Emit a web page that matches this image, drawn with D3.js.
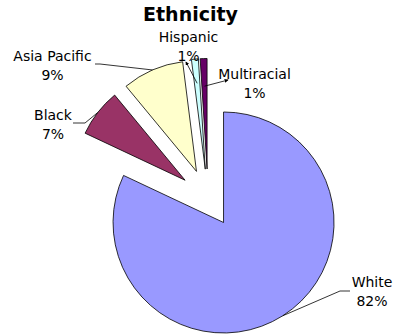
<!DOCTYPE html>
<html>
<head>
<meta charset="utf-8">
<script src="https://cdn.jsdelivr.net/npm/d3@7/dist/d3.min.js"></script>
<style>
  html, body { margin: 0; padding: 0; background: #fff; }
  svg { display: block; }
  text { font-family: "DejaVu Sans", Verdana, sans-serif; fill: #000; }
</style>
</head>
<body>
<svg id="chart" width="396" height="336"></svg>
<script>
// Ethnicity breakdown (percent of total)
const categories = ["White", "Black", "Asia Pacific", "Hispanic", "Multiracial"];
const values = [82, 7, 9, 1, 1];
const colors = ["#9999FF", "#993366", "#FFFFCC", "#CCFFFF", "#660066"];
const title = "Ethnicity";

const width = 396, height = 336;
const cx = 208, cy = 198;     // pie centre
const radius = 110.5;
const explode = 29;           // every slice pulled out by the same distance

// Label layout: text centre, first baseline, leader anchor at the label side,
// and how far along the slice's mid-angle the leader touches it
const labelLayout = {
  "White":        { x: 372,   y: 287, lead: [[350, 291], [340, 291]], reach: 1.0, arrow: false },
  "Black":        { x: 53,    y: 120, lead: [[73, 123], [85, 123]],   reach: 1.0, arrow: false },
  "Asia Pacific": { x: 52.5,  y: 61,  lead: [[95, 64], [100, 64]],    reach: 1.0, arrow: false },
  "Hispanic":     { x: 188.5, y: 42,  lead: [[186, 62]],              reach: 0.78, arrow: true },
  "Multiracial":  { x: 254.5, y: 79,  lead: [[228, 80]],              reach: 0.75, arrow: true }
};

const svg = d3.select("#chart");

svg.append("defs").append("marker")
  .attr("id", "arrow")
  .attr("viewBox", "0 0 6 6")
  .attr("refX", 5).attr("refY", 3)
  .attr("markerWidth", 5).attr("markerHeight", 5)
  .attr("orient", "auto-start-reverse")
  .append("path")
  .attr("d", "M0,0 L6,3 L0,6 Z")
  .attr("fill", "#000");

svg.append("text")
  .attr("x", 190.5).attr("y", 21)
  .attr("text-anchor", "middle")
  .style("font-weight", "bold")
  .style("font-size", "19px")
  .text(title);

const total = d3.sum(values);
const pie = d3.pie().sort(null).value(d => d.value).startAngle(0).endAngle(2 * Math.PI);
const data = pie(categories.map((c, i) => ({ name: c, value: values[i], color: colors[i] })));

const arc = d3.arc().innerRadius(0).outerRadius(radius);

const g = svg.append("g").attr("transform", `translate(${cx},${cy})`);

function offsetOf(d, dist) {
  const a = (d.startAngle + d.endAngle) / 2;
  return [Math.sin(a) * dist, -Math.cos(a) * dist];
}

g.selectAll("path.slice")
  .data(data)
  .join("path")
  .attr("class", "slice")
  .attr("d", arc)
  .attr("transform", d => { const o = offsetOf(d, explode); return `translate(${o[0]},${o[1]})`; })
  .attr("fill", d => d.data.color)
  .attr("stroke", "#000")
  .attr("stroke-width", 0.8)
  .attr("stroke-linejoin", "round");

// Leader lines from each slice to its label
data.forEach(d => {
  const L = labelLayout[d.data.name];
  const o = offsetOf(d, explode);
  const p = offsetOf(d, radius * L.reach);
  const anchor = [cx + o[0] + p[0], cy + o[1] + p[1]];
  const pts = L.lead.concat([anchor]);
  const path = svg.append("path")
    .attr("d", d3.line()(pts))
    .attr("fill", "none")
    .attr("stroke", "#000")
    .attr("stroke-width", 0.8);
  if (L.arrow) path.attr("marker-start", "url(#arrow)");
});

// Category name and percentage labels
data.forEach(d => {
  const L = labelLayout[d.data.name];
  const t = svg.append("text")
    .attr("text-anchor", "middle")
    .style("font-size", "14px");
  t.append("tspan").attr("x", L.x).attr("y", L.y).text(d.data.name);
  t.append("tspan").attr("x", L.x).attr("y", L.y + 18.5)
    .text(Math.round(d.data.value / total * 100) + "%");
});
</script>
</body>
</html>
